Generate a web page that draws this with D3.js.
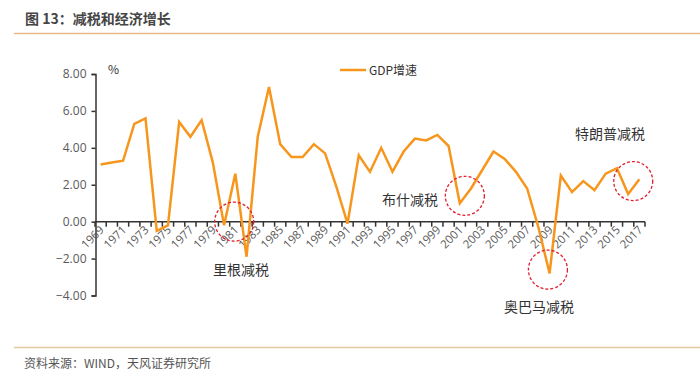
<!DOCTYPE html>
<html>
<head>
<meta charset="utf-8">
<script src="https://cdn.jsdelivr.net/npm/d3@7"></script>
<style>
  body { margin: 0; background: #fff; }
  svg { display: block; font-family: "Noto Sans CJK SC", "Noto Sans", sans-serif; }
</style>
</head>
<body>
<svg id="chart"></svg>
<script>
// data
const years = d3.range(1969, 2018);
const gdp = [3.1, 3.2, 3.3, 5.3, 5.6, -0.5, -0.2, 5.4, 4.6, 5.5,
             3.2, -0.2, 2.6, -1.9, 4.6, 7.3, 4.2, 3.5, 3.5, 4.2,
             3.7, 1.9, -0.1, 3.6, 2.7, 4.0, 2.7, 3.8, 4.5, 4.4,
             4.7, 4.1, 1.0, 1.8, 2.8, 3.8, 3.4, 2.7, 1.8, -0.3,
             -2.8, 2.5, 1.6, 2.2, 1.7, 2.6, 2.9, 1.5, 2.3];
const yTicks = [-4, -2, 0, 2, 4, 6, 8];
// circle centre: year + fraction of a year, value on the y scale
const notes = [
  { label: "里根减税", year: 1981, shift: -0.1, value: 0.0, lx: 241, ly: 275 },
  { label: "布什减税", year: 2001, shift: 0.45, value: 1.4, lx: 410, ly: 205 },
  { label: "奥巴马减税", year: 2009, shift: -0.15, value: -2.6, lx: 539, ly: 312 },
  { label: "特朗普减税", year: 2016, shift: 0.45, value: 2.2, lx: 610, ly: 139 }
];

const width = 700;
const height = 378;

const svg = d3.select("#chart")
    .attr("width", width)
    .attr("height", height);

// header + footer
svg.append("text")
    .attr("x", 25).attr("y", 24)
    .attr("font-size", 14).attr("font-weight", "bold")
    .attr("fill", "#454545")
    .text("图 13：减税和经济增长");
svg.append("line")
    .attr("x1", 14).attr("x2", 700).attr("y1", 33.5).attr("y2", 33.5)
    .attr("stroke", "#e9b887").attr("stroke-width", 1.5);
svg.append("line")
    .attr("x1", 14).attr("x2", 700).attr("y1", 347.5).attr("y2", 347.5)
    .attr("stroke", "#e3c9a3").attr("stroke-width", 1.5);
svg.append("text")
    .attr("x", 24).attr("y", 368)
    .attr("font-size", 12).attr("fill", "#555")
    .text("资料来源：WIND，天风证券研究所");

// scales
const x = d3.scaleBand()
    .domain(years)
    .range([95, 645])
    .padding(0);
const y = d3.scaleLinear()
    .domain([-4, 8])
    .range([295.5, 74]);
const cx = yr => x(yr) + x.bandwidth() / 2;

// y axis
const yAxis = d3.axisLeft(y)
    .tickValues(yTicks)
    .tickFormat(d3.format(".2f"))
    .tickSize(4);
const gy = svg.append("g")
    .attr("transform", "translate(95.5,0)")
    .call(yAxis);
gy.select(".domain").attr("stroke", "#333").attr("stroke-width", 1.5);
gy.selectAll(".tick line").attr("stroke", "#333").attr("stroke-width", 1.5);
gy.selectAll(".tick text")
    .attr("font-size", 12).attr("fill", "#595959")
    .attr("font-family", "Open Sans, sans-serif")
    .attr("x", -9);

svg.append("text")
    .attr("x", 108).attr("y", 74)
    .attr("font-size", 12).attr("fill", "#333")
    .text("%");

// x axis on the zero line
const gx = svg.append("g")
    .attr("transform", "translate(0," + y(0) + ")");
gx.append("line")
    .attr("x1", x.range()[0]).attr("x2", x.range()[1])
    .attr("stroke", "#333").attr("stroke-width", 1.5);
gx.selectAll(".tk")
    .data(years.concat(["end"]))
    .enter()
    .append("line")
    .attr("x1", d => d === "end" ? x.range()[1] : x(d))
    .attr("x2", d => d === "end" ? x.range()[1] : x(d))
    .attr("y1", 0).attr("y2", 5)
    .attr("stroke", "#333").attr("stroke-width", 1.5);
gx.selectAll(".lbl")
    .data(years.filter((d, i) => i % 2 === 0))
    .enter()
    .append("text")
    .attr("text-anchor", "end")
    .attr("font-size", 11.5)
    .attr("font-family", "Open Sans, sans-serif")
    .attr("fill", "#595959")
    .attr("transform", d => "translate(" + (cx(d) + 4) + ",9) rotate(-45)")
    .text(d => d);

// line
const line = d3.line()
    .x((d, i) => cx(years[i]))
    .y(d => y(d));
svg.append("path")
    .datum(gdp)
    .attr("fill", "none")
    .attr("stroke", "#f7961d")
    .attr("stroke-width", 2.5)
    .attr("stroke-linejoin", "miter")
    .attr("d", line);

// legend
svg.append("line")
    .attr("x1", 340).attr("x2", 366).attr("y1", 70).attr("y2", 70)
    .attr("stroke", "#f7961d").attr("stroke-width", 2.5);
svg.append("text")
    .attr("x", 369).attr("y", 74.5)
    .attr("font-size", 12).attr("fill", "#333")
    .text("GDP增速");

// annotation circles + labels
svg.selectAll(".ring")
    .data(notes)
    .enter()
    .append("circle")
    .attr("cx", d => cx(d.year) + d.shift * x.step())
    .attr("cy", d => y(d.value))
    .attr("r", 19.5)
    .attr("fill", "none")
    .attr("stroke", "#e02030")
    .attr("stroke-width", 1.3)
    .attr("stroke-dasharray", "3,2");
svg.selectAll(".note")
    .data(notes)
    .enter()
    .append("text")
    .attr("x", d => d.lx).attr("y", d => d.ly)
    .attr("text-anchor", "middle")
    .attr("font-size", 14).attr("fill", "#333")
    .text(d => d.label);
</script>
</body>
</html>
